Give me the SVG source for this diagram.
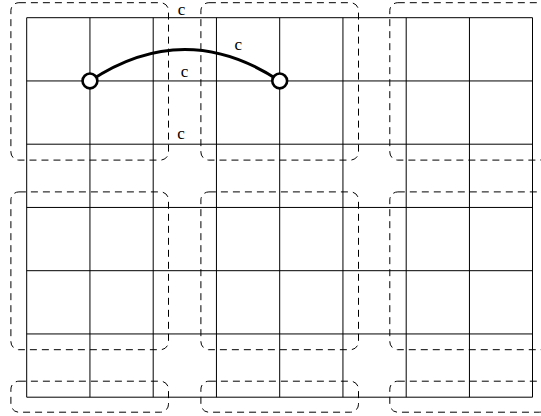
<svg xmlns="http://www.w3.org/2000/svg" width="541" height="416" viewBox="0 0 541 416">
<style>
.grid{stroke:#000;stroke-width:1;fill:none}
.box{fill:none;stroke:#000;stroke-width:1;stroke-dasharray:7,5}
.pt{fill:#fff;stroke:#000;stroke-width:2.6}
.edge{fill:none;stroke:#000;stroke-width:3}
.lbl{font-family:"Liberation Serif","Times New Roman",serif;font-size:17px;fill:#000;text-anchor:middle}
</style>
<rect width="541" height="416" fill="#fff"/>
<g id="grid" class="grid">
<path d="M26.7,17.7V397.2M89.95,17.7V397.2M153.2,17.7V397.2M216.45,17.7V397.2M279.7,17.7V397.2M342.95,17.7V397.2M406.2,17.7V397.2M469.45,17.7V397.2M532.5,17.7V397.2"/>
<path d="M26.7,17.7H532.5M26.7,80.95H532.5M26.7,144.2H532.5M26.7,207.45H532.5M26.7,270.7H532.5M26.7,333.95H532.5M26.7,397.2H532.5"/>
</g>
<g id="box-r1c1"><rect class="box" x="10.9" y="2.7" width="157.6" height="157.4" rx="8"/></g>
<g id="box-r1c2"><rect class="box" x="200.9" y="2.7" width="157.6" height="157.4" rx="8"/></g>
<g id="box-r1c3"><rect class="box" x="389.8" y="2.7" width="157.6" height="157.4" rx="8"/></g>
<g id="box-r2c1"><rect class="box" x="10.9" y="191.9" width="157.6" height="157.8" rx="8"/></g>
<g id="box-r2c2"><rect class="box" x="200.9" y="191.9" width="157.6" height="157.8" rx="8"/></g>
<g id="box-r2c3"><rect class="box" x="389.8" y="191.9" width="157.6" height="157.8" rx="8"/></g>
<g id="box-r3c1"><rect class="box" x="10.9" y="381.2" width="157.6" height="31" rx="8"/></g>
<g id="box-r3c2"><rect class="box" x="200.9" y="381.2" width="157.6" height="31" rx="8"/></g>
<g id="box-r3c3"><rect class="box" x="389.8" y="381.2" width="157.6" height="31" rx="8"/></g>
<g id="connectors">
<path class="edge" d="M89.95,80.95Q184.8,18 279.7,80.95"/>
</g>
<g id="node-a"><circle class="pt" cx="89.95" cy="80.95" r="7.4"/></g>
<g id="node-b"><circle class="pt" cx="279.7" cy="80.95" r="7.4"/></g>
<g id="labels">
<text class="lbl" x="181.5" y="15">c</text>
<text class="lbl" x="184.5" y="77">c</text>
<text class="lbl" x="181" y="139">c</text>
<text class="lbl" x="238.3" y="50">c</text>
</g>
</svg>
